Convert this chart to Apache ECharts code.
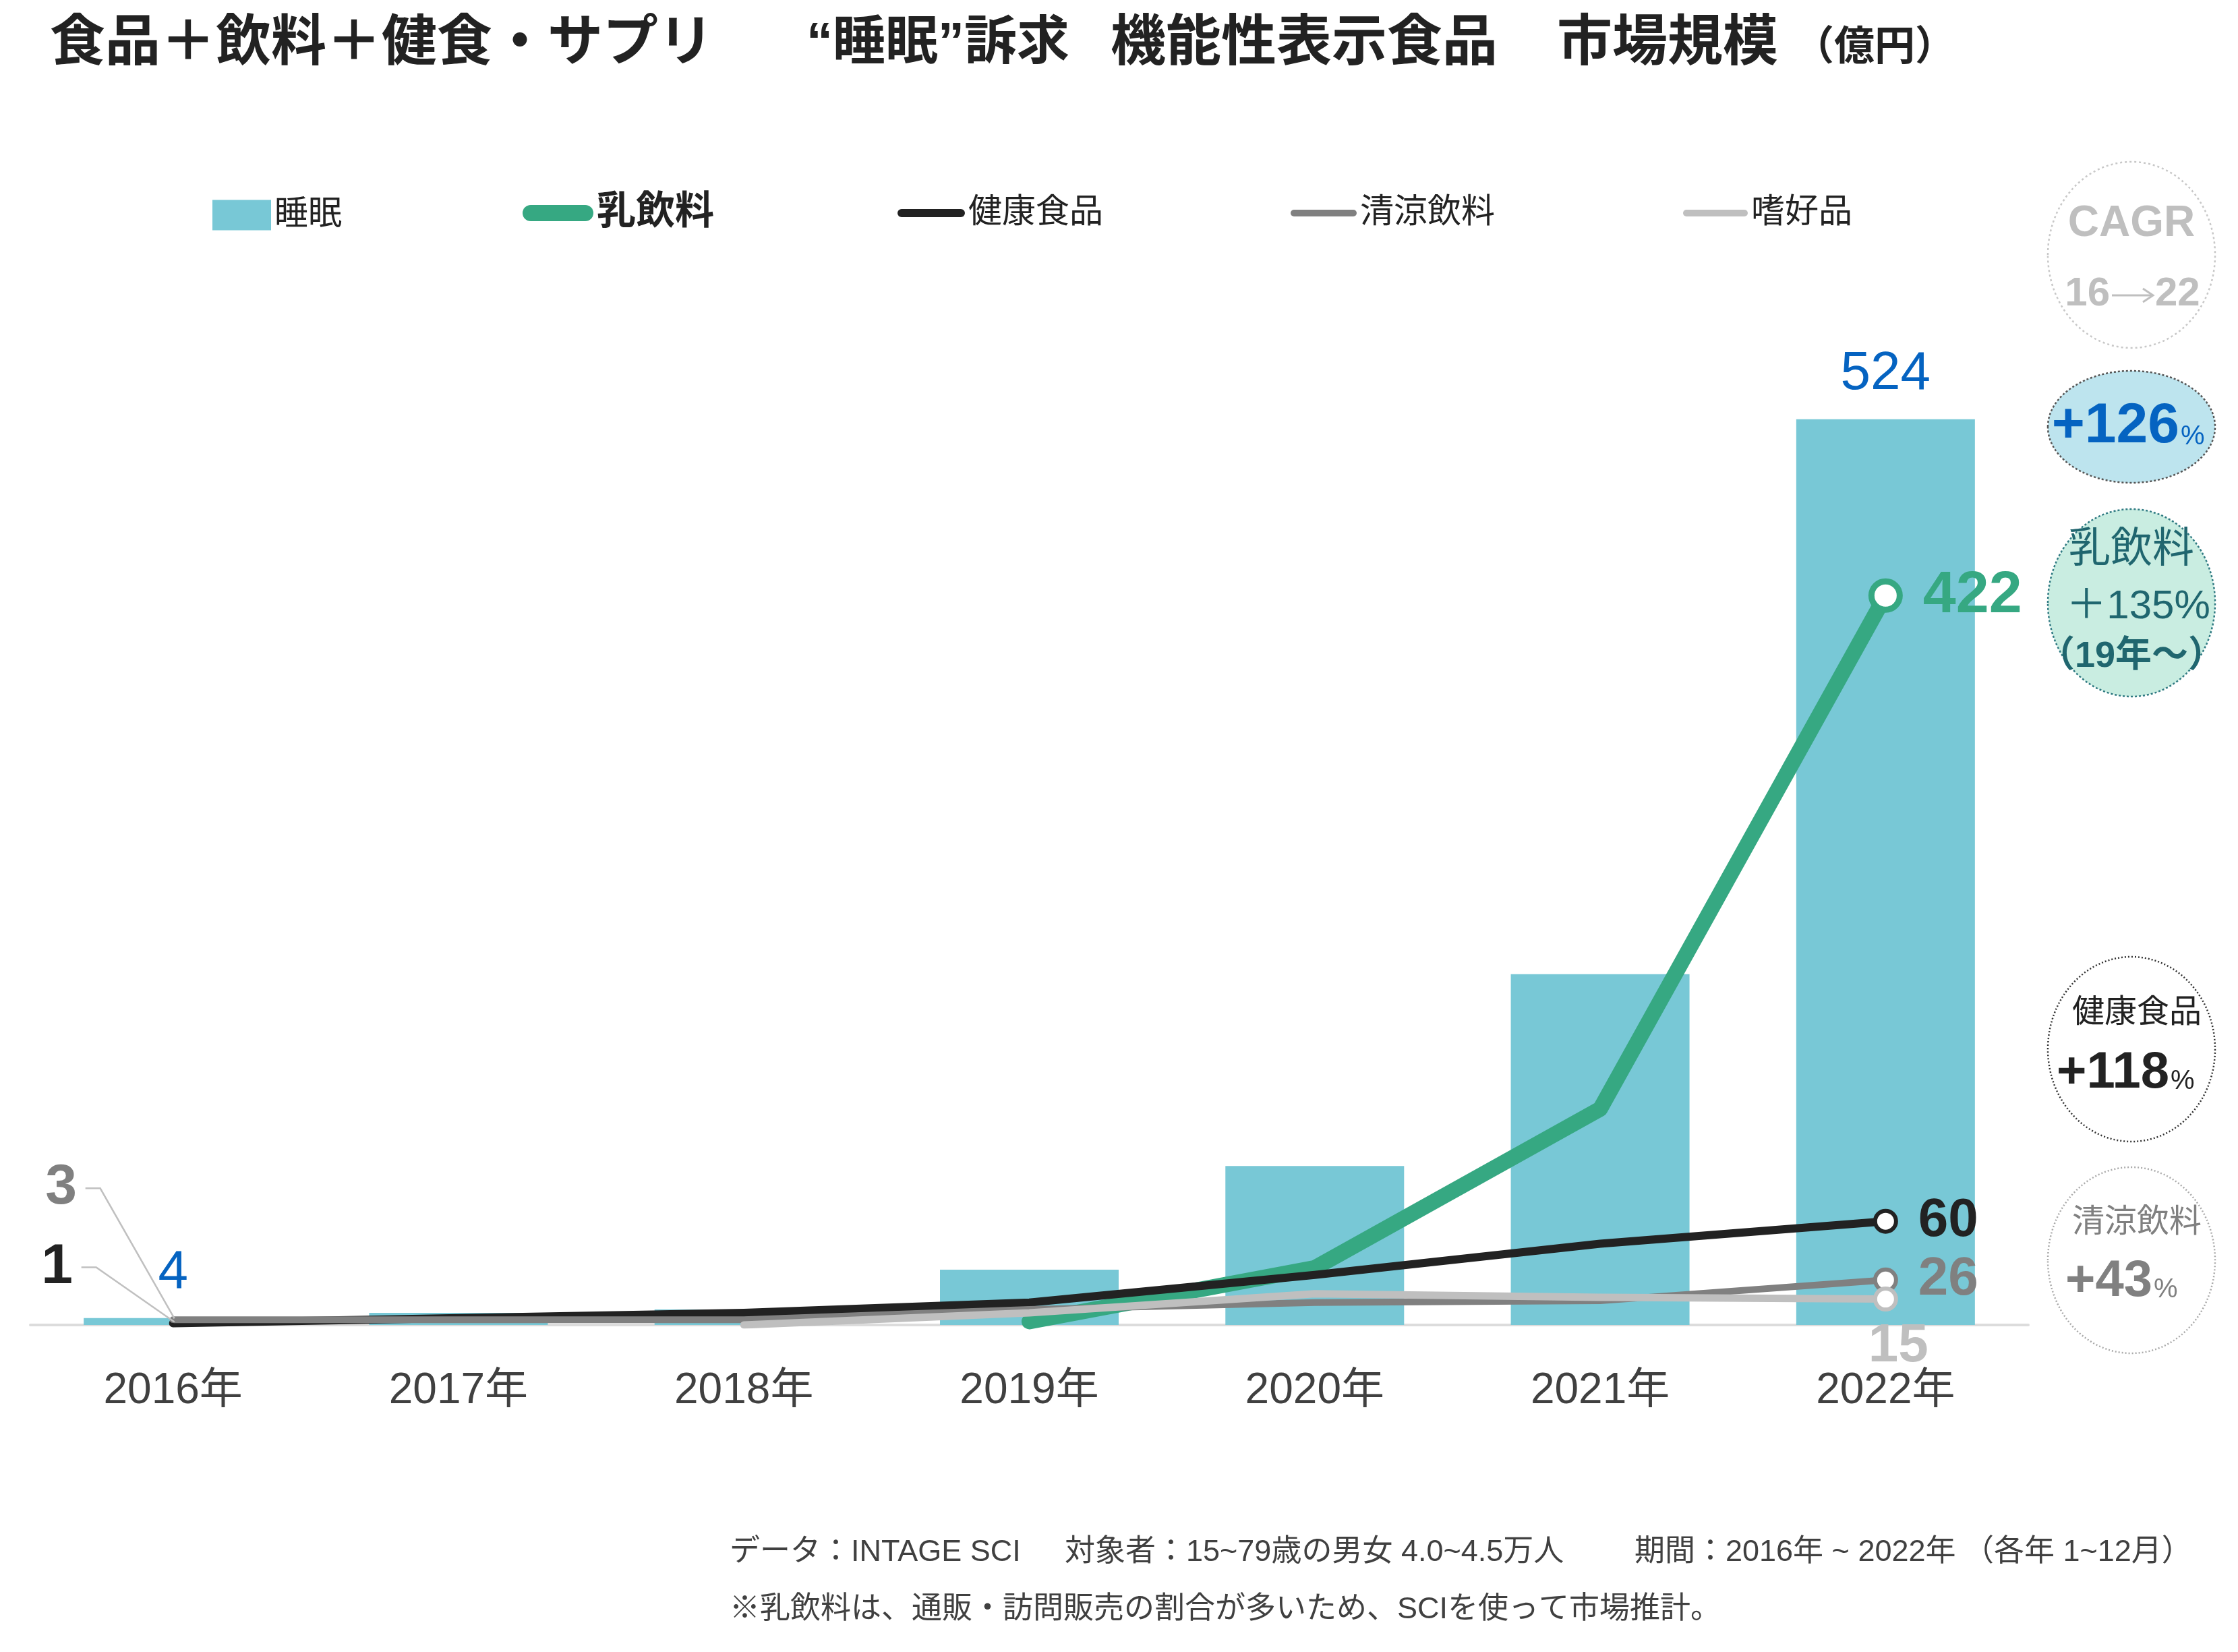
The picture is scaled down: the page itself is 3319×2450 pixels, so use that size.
<!DOCTYPE html>
<html>
<head>
<meta charset="utf-8">
<script src="https://cdn.jsdelivr.net/npm/echarts@6/dist/echarts.min.js"></script>
<style>
html, body { margin: 0; padding: 0; background: #fff; }
#main { width: 3319px; height: 2450px; }
</style>
</head>
<body>
<div id="main"></div>
<script>
// 年（横軸）
const years = ['2016年', '2017年', '2018年', '2019年', '2020年', '2021年', '2022年'];
// 睡眠 合計（棒）
const sleepTotal = [4, 7, 9, 32, 92, 203, 524];
// カテゴリ別（線）
const milkDrink = [null, null, null, 2, 33, 125, 422];
const healthFood = [1, 4, 7, 13, 29, 47, 60];
const softDrink = [3, 3, 3, 9, 13, 14, 26];
const luxuryFood = [null, null, 0, 7, 18, 16, 15];

const FONT = '"Liberation Sans", "Noto Sans CJK JP", sans-serif';
const BAR_C = '#78c8d6';
const GREEN = '#36a882';
const BLACK = '#222222';
const GRAY = '#808080';
const LGRAY = '#bfbfbf';
const BLUE = '#0563c1';

const chart = echarts.init(document.getElementById('main'), null, { renderer: 'canvas' });

// 線データ：最後の点だけ白抜きの丸、最初の点にラベルを付ける場合あり
function lineData(values, color, size, border, endLabel, firstLabel) {
  return values.map((v, i) => {
    if (i === values.length - 1) {
      return { value: v, symbol: 'circle', symbolSize: size,
        itemStyle: { color: '#fff', borderColor: color, borderWidth: border }, label: endLabel };
    }
    if (i === 0 && firstLabel) {
      return { value: v, symbol: 'circle', symbolSize: 2, itemStyle: { color: color }, label: firstLabel };
    }
    return { value: v, symbol: 'none' };
  });
}

function numLabel(color, size, position, distance, extra) {
  return Object.assign({
    show: true, position: position, distance: distance, formatter: '{c}',
    color: color, fontSize: size, fontWeight: 'bold', fontFamily: FONT, lineHeight: size
  }, extra || {});
}

function capsule(w, h) {
  const r = h / 2;
  return 'path://M' + r + ',0 L' + (w - r) + ',0 A' + r + ',' + r + ' 0 0 1 ' + (w - r) + ',' + h +
    ' L' + r + ',' + h + ' A' + r + ',' + r + ' 0 0 1 ' + r + ',0 Z';
}

function legendItem(name, left, top, w, h, icon, color, textSize, bold) {
  return {
    left: left, top: top, itemWidth: w, itemHeight: h, itemGap: 0, padding: 0,
    selectedMode: false,
    data: [{ name: name, icon: icon, itemStyle: { color: color, borderWidth: 0 } }],
    textStyle: { fontSize: textSize, fontWeight: bold ? 'bold' : 'normal', color: '#222', fontFamily: FONT, padding: [0, 0, 0, 0] }
  };
}

const option = {
  animation: false,
  backgroundColor: '#fff',
  grid: { left: 45, right: 311, top: 427, bottom: 485, containLabel: false },
  legend: [
    legendItem('睡眠', 315, 294, 87, 45, 'rect', BAR_C, 50, false),
    legendItem('乳飲料', 775, 287, 105, 24, capsule(105, 24), GREEN, 58, true),
    legendItem('健康食品', 1331, 291, 100, 12, capsule(100, 12), BLACK, 50, false),
    legendItem('清涼飲料', 1914, 291, 98, 10, capsule(98, 10), GRAY, 50, false),
    legendItem('嗜好品', 2496, 291, 96, 10, capsule(96, 10), LGRAY, 50, false)
  ],
  xAxis: {
    type: 'category', data: years,
    axisLine: { lineStyle: { color: '#dcdcdc', width: 4 } },
    axisTick: { show: false },
    axisLabel: { fontSize: 64, color: '#404040', margin: 66, fontFamily: FONT }
  },
  yAxis: { type: 'value', min: 0, max: 600, show: false, splitLine: { show: false } },
  series: [
    {
      name: '睡眠', type: 'bar', barWidth: 265, itemStyle: { color: BAR_C },
      data: sleepTotal.map((v, i) => ({
        value: v,
        label: { show: i === 0 || i === sleepTotal.length - 1 }
      })),
      label: { position: 'top', distance: 27, color: BLUE, fontSize: 80, lineHeight: 80, fontFamily: FONT }
    },
    {
      name: '乳飲料', type: 'line', color: GREEN,
      lineStyle: { color: GREEN, width: 23, cap: 'round', join: 'round' },
      itemStyle: { color: GREEN },
      data: lineData(milkDrink, GREEN, 42, 9, numLabel(GREEN, 88, 'right', 30))
    },
    {
      name: '健康食品', type: 'line', color: BLACK,
      lineStyle: { color: BLACK, width: 12, cap: 'round', join: 'round' },
      itemStyle: { color: BLACK },
      data: lineData(healthFood, BLACK, 31, 6, numLabel(BLACK, 80, 'right', 30),
        numLabel(BLACK, 84, 'inside', 0, { offset: [-172, -83] }))
    },
    {
      name: '清涼飲料', type: 'line', color: GRAY,
      lineStyle: { color: GRAY, width: 10, cap: 'round', join: 'round' },
      itemStyle: { color: GRAY },
      data: lineData(softDrink, GRAY, 31, 6, numLabel(GRAY, 80, 'right', 30),
        numLabel(GRAY, 84, 'inside', 0, { offset: [-166, -195] }))
    },
    {
      name: '嗜好品', type: 'line', color: LGRAY,
      lineStyle: { color: LGRAY, width: 11, cap: 'round', join: 'round' },
      itemStyle: { color: LGRAY },
      data: lineData(luxuryFood, LGRAY, 31, 6, numLabel(LGRAY, 80, 'bottom', 12, { offset: [19, 0] }))
    }
  ]
};

chart.setOption(option);

// テキスト
function txt(text, x, y, size, color, opts) {
  opts = opts || {};
  return {
    type: 'text', silent: true, z: 10,
    style: {
      text: text, x: x, y: y, fill: color,
      fontSize: size, fontWeight: opts.bold ? 'bold' : 'normal', fontFamily: FONT,
      align: opts.align || 'left', verticalAlign: 'middle',
      textAlign: opts.align || 'left', textVerticalAlign: 'middle'
    }
  };
}

function bubble(cx, cy, rx, ry, fill, stroke, dash) {
  return {
    type: 'ellipse', silent: true, z: 5,
    shape: { cx: cx, cy: cy, rx: rx, ry: ry },
    style: { fill: fill, stroke: stroke, lineWidth: 2.5, lineDash: dash }
  };
}

function seg(points, color, width) {
  return {
    type: 'polyline', silent: true, z: 10,
    shape: { points: points },
    style: { stroke: color, lineWidth: width, fill: null }
  };
}

// 引き出し線（2016年の小さい値）
function leader(seriesIndex, value, off) {
  const p = chart.convertToPixel({ seriesIndex: seriesIndex }, [0, value]);
  const c = [p[0] + off[0], p[1] + off[1]];
  return {
    type: 'polyline', silent: true, z: 4,
    shape: { points: [[c[0] + 36, c[1]], [c[0] + 58, c[1]], [p[0] + 2, p[1] - 2]] },
    style: { stroke: '#c0c0c0', lineWidth: 2.5, fill: null }
  };
}

const graphics = [
  // タイトル
  txt('食品＋飲料＋健食・サプリ', 74, 66, 82, BLACK, { bold: true }),
  txt('“睡眠”訴求', 1196, 66, 78, BLACK, { bold: true }),
  txt('機能性表示食品', 1647, 66, 82, BLACK, { bold: true }),
  txt('市場規模', 2309, 66, 82, BLACK, { bold: true }),
  txt('（億円）', 2660, 72, 60, BLACK, { bold: true }),

  // CAGR 吹き出し
  bubble(3161, 378, 124, 138, '#fff', '#c8c8c8', [3, 4]),
  txt('CAGR', 3161, 332, 64, '#bfbfbf', { bold: true, align: 'center' }),
  txt('16', 3129, 436, 60, '#bfbfbf', { bold: true, align: 'right' }),
  seg([[3132, 438], [3192, 438]], '#bfbfbf', 3),
  seg([[3178, 428], [3193, 438], [3178, 448]], '#bfbfbf', 3),
  txt('22', 3196, 436, 60, '#bfbfbf', { bold: true, align: 'left' }),

  bubble(3161, 633, 124, 83, '#bde4ee', '#555', [3, 3]),
  txt('+126', 3232, 633, 84, BLUE, { bold: true, align: 'right' }),
  txt('%', 3234, 648, 40, BLUE, { align: 'left' }),

  bubble(3161, 894, 124, 139, '#c9ede1', '#2f7a82', [3, 3]),
  txt('乳飲料', 3161, 817, 62, '#20666f', { align: 'center' }),
  txt('＋135%', 3171, 900, 60, '#20666f', { align: 'center' }),
  txt('（19年～）', 3161, 974, 54, '#20666f', { bold: true, align: 'center' }),

  bubble(3161, 1556, 124, 137, '#fff', '#333', [2, 3]),
  txt('健康食品', 3169, 1503, 48, BLACK, { align: 'center' }),
  txt('+118', 3217, 1592, 76, BLACK, { bold: true, align: 'right' }),
  txt('%', 3219, 1604, 40, BLACK, { align: 'left' }),

  bubble(3161, 1869, 124, 138, '#fff', '#aaa', [2, 3]),
  txt('清涼飲料', 3169, 1814, 48, GRAY, { align: 'center' }),
  txt('+43', 3192, 1901, 76, GRAY, { bold: true, align: 'right' }),
  txt('%', 3194, 1913, 40, GRAY, { align: 'left' }),

  // 注記
  txt('データ：INTAGE SCI', 1082, 2303, 45, '#404040'),
  txt('対象者：15~79歳の男女 4.0~4.5万人', 1579, 2303, 45, '#404040'),
  txt('期間：2016年 ~ 2022年', 2424, 2303, 45, '#404040'),
  txt('（各年 1~12月）', 2912, 2303, 45, '#404040'),
  txt('※乳飲料は、通販・訪問販売の割合が多いため、SCIを使って市場推計。', 1082, 2388, 45, '#404040'),

  leader(3, softDrink[0], [-166, -195]),
  leader(2, healthFood[0], [-172, -83])
];

chart.setOption({ graphic: graphics });
</script>
</body>
</html>
